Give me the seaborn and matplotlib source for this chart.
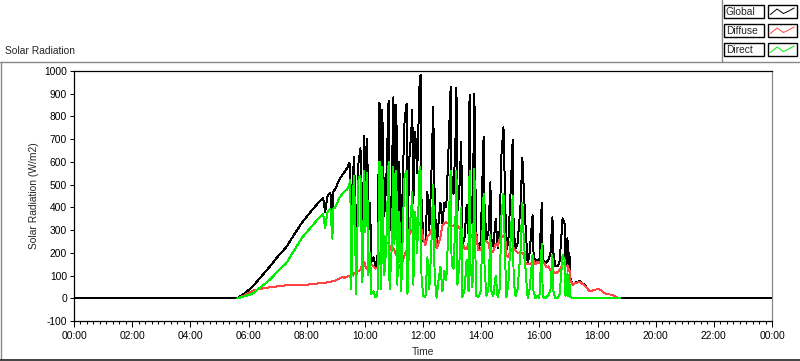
import numpy as np
import pandas as pd
import matplotlib.pyplot as plt
import seaborn as sns
from matplotlib.patches import Rectangle
from matplotlib.ticker import MultipleLocator

nan = np.nan

# readings (local time), W/m2
times = [
    "00:00", "05:37", "05:51", "06:08", "06:26", "06:43", "06:59", "07:18", "07:34", "07:51",
    "08:10", "08:26", "08:34", "08:38", "08:43", "08:49", "08:53", "08:55", "08:59", "09:07",
    "09:14", "09:18", "09:24", "09:28", "09:30", "09:32", "09:36", "09:38", "09:42", "09:47",
    "09:51", "09:55", "09:59", "10:01", "10:05", "10:07", "10:11", "10:13", "10:18", "10:22",
    "10:26", "10:30", "10:32", "10:34", "10:36", "10:40", "10:44", "10:49", "10:51", "10:55",
    "10:59", "11:01", "11:05", "11:07", "11:11", "11:15", "11:20", "11:22", "11:26", "11:28",
    "11:32", "11:36", "11:38", "11:40", "11:44", "11:48", "11:53", "11:55", "11:57", "12:01",
    "12:05", "12:09", "12:13", "12:17", "12:21", "12:24", "12:28", "12:32", "12:36", "12:40",
    "12:44", "12:48", "12:52", "12:57", "12:59", "13:03", "13:07", "13:09", "13:11", "13:15",
    "13:19", "13:21", "13:26", "13:30", "13:34", "13:36", "13:38", "13:42", "13:46", "13:48",
    "13:50", "13:54", "13:59", "14:05", "14:07", "14:11", "14:15", "14:19", "14:21", "14:25",
    "14:30", "14:34", "14:38", "14:42", "14:46", "14:50", "14:52", "14:56", "15:01", "15:05",
    "15:07", "15:11", "15:15", "15:21", "15:25", "15:27", "15:32", "15:36", "15:40", "15:46",
    "15:48", "15:52", "15:56", "16:00", "16:05", "16:07", "16:11", "16:15", "16:19", "16:23",
    "16:27", "16:29", "16:33", "16:38", "16:42", "16:48", "16:52", "16:54", "16:58", "17:00",
    "17:02", "17:04", "17:09", "17:15", "17:23", "17:33", "17:44", "17:54", "18:04", "18:15",
    "18:29", "18:46", "24:00",
]
global_wm2 = [
    0, 0, 20, 50, 95, 137, 180, 225, 280, 335,
    385, 425, 440, 380, 450, 465, 335, 470, 480, 520,
    545, 555, 575, 595, 580, 230, 560, 620, 170, 600,
    660, 250, 715, 450, 700, 280, 420, 160, 180, 140,
    170, 860, 840, 260, 830, 360, 500, 870, 300, 450,
    885, 500, 850, 360, 600, 230, 650, 780, 855, 260,
    620, 740, 830, 420, 730, 550, 950, 982, 420, 250,
    240, 470, 300, 520, 840, 450, 220, 330, 420, 330,
    420, 400, 620, 930, 500, 460, 700, 925, 380, 480,
    690, 230, 270, 410, 280, 895, 450, 330, 898, 520,
    290, 210, 250, 710, 400, 260, 290, 510, 260, 230,
    350, 220, 300, 640, 753, 400, 210, 250, 480, 696,
    300, 220, 240, 400, 617, 520, 300, 150, 200, 365,
    200, 150, 170, 160, 418, 180, 150, 160, 170, 200,
    357, 200, 140, 140, 165, 352, 330, 150, 264, 130,
    200, 90, 60, 70, 75, 60, 30, 38, 40, 22,
    15, 0, 0,
]
diffuse_wm2 = [
    nan, 0, 12, 33, 42, 48, 52, 57, 57, 58,
    62, 66, 66, 68, 70, 72, 75, 76, 78, 85,
    95, 90, 95, 100, 95, 105, 100, 110, 115, 120,
    125, 150, 160, 140, 130, 140, 150, 150, 140, 130,
    135, 160, 200, 210, 200, 220, 240, 245, 230, 210,
    220, 210, 190, 170, 135, 150, 175, 190, 210, 230,
    280, 300, 300, 310, 320, 330, 330, 320, 300, 260,
    235, 270, 280, 300, 310, 300, 220, 240, 270, 320,
    330, 335, 330, 330, 320, 320, 330, 325, 320, 310,
    300, 240, 220, 215, 240, 260, 270, 280, 300, 290,
    280, 210, 215, 240, 250, 250, 240, 205, 205, 205,
    240, 230, 260, 270, 277, 260, 190, 180, 210, 220,
    220, 210, 200, 200, 200, 195, 155, 150, 150, 160,
    165, 150, 160, 155, 170, 165, 150, 137, 140, 125,
    120, 115, 110, 115, 125, 150, 155, 140, 145, 120,
    130, 80, 60, 68, 72, 58, 30, 38, 40, 22,
    15, 0, nan,
]
direct_wm2 = [
    nan, 0, 8, 20, 50, 80, 115, 155, 210, 268,
    315, 355, 370, 310, 380, 395, 262, 395, 400, 440,
    460, 470, 480, 500, 520, 40, 480, 540, 20, 530,
    540, 70, 560, 290, 550, 100, 200, 20, 30, 5,
    15, 600, 600, 40, 580, 100, 220, 600, 40, 200,
    580, 240, 560, 60, 380, 30, 420, 540, 560, 20,
    300, 400, 470, 60, 380, 200, 580, 560, 80, 10,
    5, 180, 40, 220, 500, 100, 3, 80, 140, 30,
    120, 80, 280, 560, 150, 130, 360, 560, 60, 150,
    400, 5, 40, 170, 30, 560, 150, 50, 570, 200,
    10, 5, 30, 460, 130, 10, 40, 280, 30, 10,
    100, 5, 40, 370, 460, 140, 5, 60, 270, 450,
    80, 10, 40, 200, 420, 300, 110, 0, 40, 190,
    30, 0, 10, 0, 240, 10, 0, 5, 15, 40,
    190, 30, 0, 0, 20, 190, 170, 10, 110, 10,
    70, 5, 0, 0, 0, 0, 0, 0, 0, 0,
    0, 0, nan,
]

series_names = ["Global", "Diffuse", "Direct"]
series_colors = ["#000000", "#ff4444", "#00ee00"]
y_ticks = list(range(-100, 1001, 100))
x_tick_hours = list(range(0, 25, 2))
x_tick_labels = ["00:00", "02:00", "04:00", "06:00", "08:00", "10:00", "12:00",
                 "14:00", "16:00", "18:00", "20:00", "22:00", "00:00"]


def to_hours(t):
    h, m = t.split(":")
    return int(h) + int(m) / 60


df = pd.DataFrame({
    "hours": [to_hours(t) for t in times],
    "Global": global_wm2,
    "Diffuse": diffuse_wm2,
    "Direct": direct_wm2,
})

sns.set_style("white")
plt.rcParams["font.family"] = ["Liberation Sans", "DejaVu Sans"]
plt.rcParams["font.size"] = 7.4

W, H = 800, 361
fig = plt.figure(figsize=(W / 100, H / 100), dpi=100)
fig.patch.set_facecolor("white")

# overlay in pixel coordinates for the panel frame and legend
ov = fig.add_axes([0, 0, 1, 1], zorder=0)
ov.set_xlim(0, W)
ov.set_ylim(H, 0)
ov.axis("off")

ax = fig.add_axes([74 / W, 40 / H, 698 / W, 250 / H], zorder=1)
ax.set_facecolor("white")

for name, color in zip(series_names, series_colors):
    d = df[["hours", name]].dropna()
    sns.lineplot(data=d, x="hours", y=name, ax=ax, color=color,
                 linewidth=0.7, antialiased=False)

ax.set_xlim(0, 24)
ax.set_ylim(-100, 1000)
ax.set_xticks(x_tick_hours)
ax.set_xticklabels(x_tick_labels)
ax.xaxis.set_minor_locator(MultipleLocator(2 / 9))
ax.set_yticks(y_ticks)
ax.set_yticklabels([str(v) for v in y_ticks])
ax.tick_params(axis="x", which="major", bottom=True, direction="out",
               length=4.5, width=0.75, pad=3, colors="black")
ax.tick_params(axis="x", which="minor", bottom=True, direction="out",
               length=2.5, width=0.75, colors="black")
ax.tick_params(axis="y", which="major", left=True, direction="out",
               length=3, width=0.75, pad=2, colors="black")
for side in ["left", "bottom", "top"]:
    ax.spines[side].set_color("black")
    ax.spines[side].set_linewidth(0.9)
ax.spines["right"].set_color("#888888")
ax.spines["right"].set_linewidth(0.9)
ax.set_xlabel("Time", labelpad=4)
ax.set_ylabel("Solar Radiation (W/m2)", labelpad=4)

# panel frame
ov.plot([0, W], [61.5, 61.5], color="#888888", lw=1)
ov.plot([0.7, 0.7], [61.5, 359], color="#888888", lw=1)
ov.plot([0, W], [359.5, 359.5], color="#222222", lw=1.2)
ov.plot([721.5, 721.5], [0, 61.5], color="#888888", lw=1)
ov.text(5, 51, "Solar Radiation", ha="left", va="center")

# legend
zig_x = [0.1, 0.33, 0.55, 0.7, 0.92]
zig_y = [3, -2.5, 2, 0, -3.5]
for i, (name, color) in enumerate(zip(series_names, series_colors)):
    top = 5 + i * 19
    ov.add_patch(Rectangle((723.5, top), 40, 13, fill=False, ec="black", lw=1))
    ov.add_patch(Rectangle((767.5, top), 29, 13, fill=False, ec="black", lw=1))
    ov.text(726, top + 6.8, name, ha="left", va="center")
    ov.plot([767.5 + 29 * z for z in zig_x], [top + 6.5 + z for z in zig_y],
            color=color, lw=0.7)

fig.savefig("out.png", dpi=100, facecolor="white")
